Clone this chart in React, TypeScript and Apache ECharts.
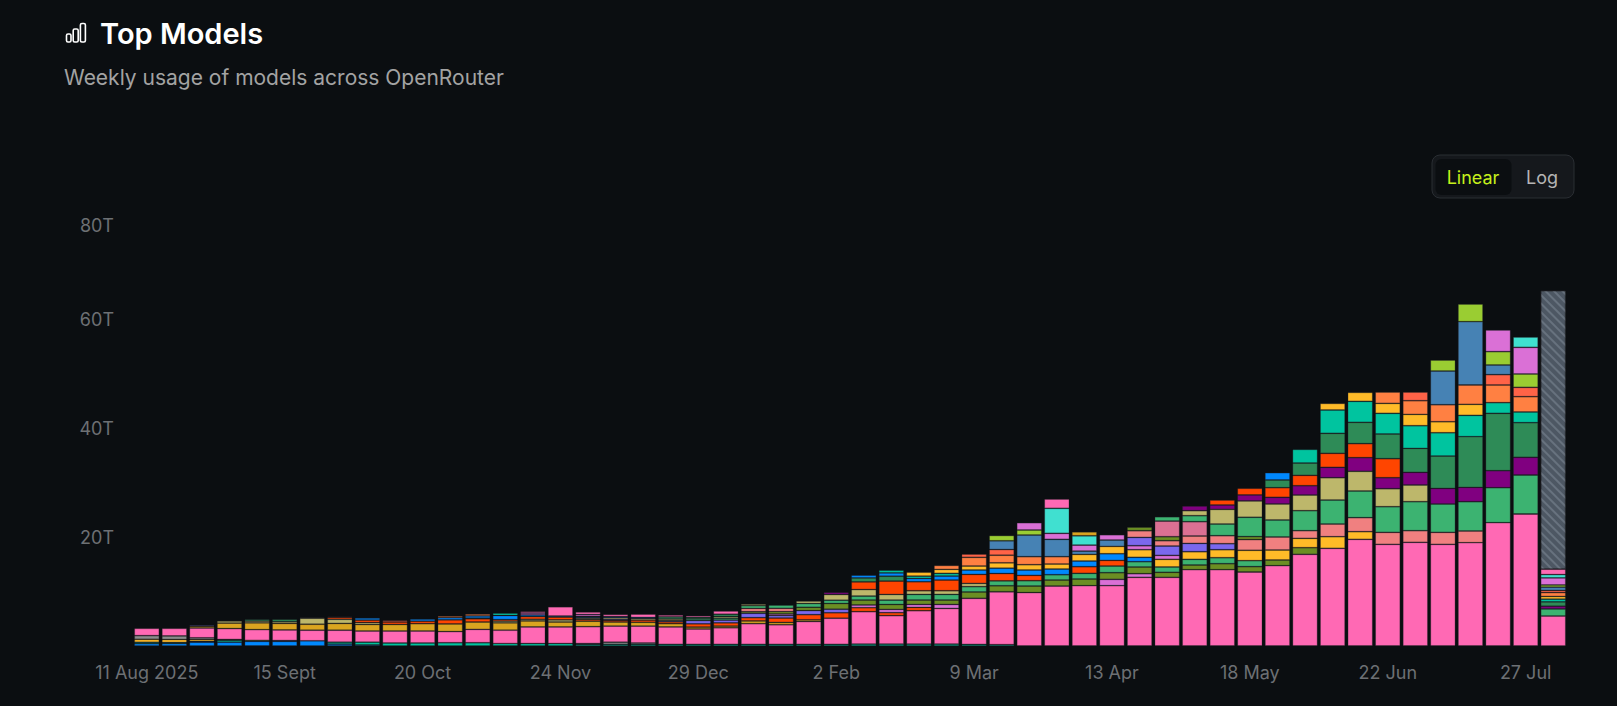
import { useEffect, useRef } from 'react';
import * as echarts from 'echarts';

// weekly buckets, Monday of each week
const weeks = [
  '11 Aug 2025', '18 Aug', '25 Aug', '1 Sept', '8 Sept', '15 Sept', '22 Sept', '29 Sept', '6 Oct', '13 Oct', '20 Oct', '27 Oct', '3 Nov',
  '10 Nov', '17 Nov', '24 Nov', '1 Dec', '8 Dec', '15 Dec', '22 Dec', '29 Dec', '5 Jan', '12 Jan', '19 Jan', '26 Jan', '2 Feb',
  '9 Feb', '16 Feb', '23 Feb', '2 Mar', '9 Mar', '16 Mar', '23 Mar', '30 Mar', '6 Apr', '13 Apr', '20 Apr', '27 Apr', '4 May',
  '11 May', '18 May', '25 May', '1 Jun', '8 Jun', '15 Jun', '22 Jun', '29 Jun', '6 Jul', '13 Jul', '20 Jul', '27 Jul', '3 Aug',
];

const yTicks = [0, 20, 40, 60, 80]; // trillions of tokens

// token volume per model, in T, bottom of the stack first
const blueBase = [
  0.43, 0.45, 0.7, 0.7, 0.85, 0.85, 0.95, 0.35, 0.2, 0, 0, 0, 0,
  0, 0, 0, 0, 0, 0, 0, 0, 0, 0, 0, 0, 0,
  0, 0, 0, 0, 0, 0, 0, 0, 0, 0, 0, 0, 0,
  0, 0, 0, 0, 0, 0, 0, 0, 0, 0, 0, 0, 0,
];
const tealBase = [
  0.25, 0.2, 0.15, 0.35, 0, 0, 0, 0.35, 0.5, 0.55, 0.55, 0.6, 0.6,
  0.45, 0.45, 0.45, 0.3, 0.3, 0.3, 0.3, 0.3, 0.3, 0.3, 0.3, 0.3, 0.3,
  0.35, 0.35, 0.35, 0.35, 0.3, 0.25, 0, 0, 0, 0, 0, 0, 0,
  0, 0, 0, 0, 0, 0, 0, 0, 0, 0, 0, 0, 0,
];
const stripeYellow = [
  0.55, 0.55, 0.35, 0.15, 0.2, 0.15, 0, 0, 0, 0, 0, 0, 0,
  0, 0, 0, 0, 0, 0, 0, 0, 0, 0, 0, 0, 0,
  0, 0, 0, 0, 0, 0, 0, 0, 0, 0, 0, 0, 0,
  0, 0, 0, 0, 0, 0, 0, 0, 0, 0, 0, 0, 0,
];
const stripeGrey = [
  0.67, 0.65, 0.3, 0, 0, 0, 0, 0, 0, 0, 0, 0, 0,
  0, 0, 0, 0.15, 0.4, 0.25, 0, 0, 0, 0, 0, 0, 0,
  0, 0, 0, 0, 0, 0, 0, 0, 0, 0, 0, 0, 0,
  0, 0, 0, 0, 0, 0, 0, 0, 0, 0, 0, 0, 0,
];
const pink = [
  1.35, 1.4, 1.8, 2.0, 1.95, 1.95, 1.95, 2.2, 2.05, 2.2, 2.2, 2.05, 2.45,
  2.45, 3.05, 3.05, 3.1, 2.95, 3.1, 3.2, 2.82, 3.05, 3.8, 3.6, 4.2, 4.8,
  5.95, 5.22, 6.13, 6.55, 8.45, 9.7, 9.8, 11.0, 11.07, 11.07, 12.6, 12.6, 14.0,
  14.0, 13.58, 14.74, 16.82, 17.92, 19.57, 18.65, 19.02, 18.65, 18.96, 22.63, 24.22, 5.5,
];
const goldenrod = [
  0, 0, 0.3, 1.0, 1.25, 1.2, 1.1, 1.25, 1.2, 1.2, 1.35, 1.4, 1.35,
  1.35, 1.1, 0.9, 1.0, 0.75, 0.7, 0.6, 0.35, 0.3, 0.5, 0.43, 0.3, 0,
  0, 0, 0, 0, 0, 0, 0, 0, 0, 0, 0, 0, 0,
  0, 0, 0, 0, 0, 0, 0, 0, 0, 0, 0, 0, 0,
];
const orangeredLow = [
  0, 0, 0, 0, 0, 0, 0, 0, 0, 0, 0, 0, 0,
  0, 0, 0, 0.3, 0.3, 0.4, 0.35, 0.6, 0.6, 0.6, 0.8, 0.95, 1.0,
  0.73, 0.55, 0.6, 0, 0, 0, 0, 0, 0, 0, 0, 0, 0,
  0, 0, 0, 0, 0, 0, 0, 0, 0, 0, 0, 0, 0,
];
const slateLow = [
  0, 0, 0, 0, 0, 0, 0, 0, 0, 0, 0, 0, 0,
  0, 0, 0, 0, 0.2, 0, 0.2, 0.6, 0.5, 0.8, 0.45, 0.75, 0.65,
  0, 0, 0, 0, 0, 0, 0, 0, 0, 0, 0, 0, 0,
  0, 0, 0, 0, 0, 0, 0, 0, 0, 0, 0, 0, 0,
];
const orchidLow = [
  0, 0, 0, 0, 0, 0, 0, 0, 0, 0, 0, 0, 0,
  0, 0, 0, 0, 0, 0, 0, 0, 0, 0, 0.3, 0, 0,
  0.5, 0.6, 0.55, 0.73, 0, 0, 0, 0, 0, 1.16, 0.67, 0, 0,
  0, 0, 0, 0, 0, 0, 0, 0, 0, 0, 0, 0, 0,
];
const olive = [
  0, 0, 0, 0, 0, 0, 0, 0, 0, 0, 0, 0, 0,
  0, 0, 0, 0, 0, 0, 0, 0, 0, 0.3, 0.43, 0.6, 1.05,
  0.9, 0.9, 0.8, 0.8, 1.16, 1.1, 1.2, 1.1, 1.22, 1.22, 1.22, 0.92, 0.86,
  1.1, 0.98, 1.04, 1.22, 0, 0, 0, 0, 0, 0, 0, 0, 0,
];
const seaMidLow = [
  0, 0, 0, 0, 0, 0, 0, 0, 0, 0, 0, 0, 0,
  0, 0, 0, 0, 0, 0, 0, 0, 0, 0, 0, 0.7, 0.6,
  0.73, 0.8, 1.04, 1.04, 0.98, 0.9, 0.98, 0.98, 1.04, 1.22, 0.98, 0.98, 1.04,
  1.1, 1.1, 0, 0, 0, 0, 0, 0, 0, 0, 0, 0, 0,
];
const blueMid = [
  0, 0, 0, 0, 0, 0, 0, 0, 0, 0, 0, 0, 0,
  0, 0, 0, 0, 0, 0, 0, 0, 0, 0, 0, 0, 0,
  0, 0, 0, 0, 0, 0, 0, 0, 0, 0, 0.8, 0, 0,
  0, 0, 0, 0, 0, 0, 0, 0, 0, 0, 0, 0, 0,
];
const goldLow = [
  0, 0, 0, 0, 0, 0, 0, 0, 0, 0, 0, 0, 0,
  0, 0, 0, 0, 0, 0, 0, 0, 0, 0, 0, 0, 0,
  0, 0, 0, 0, 0, 0, 0, 0, 0, 0, 1.4, 1.4, 1.4,
  1.47, 1.9, 1.83, 1.71, 2.14, 1.41, 0, 0, 0, 0, 0, 0, 0,
];
const orchidMid = [
  0, 0, 0, 0, 0, 0, 0, 0, 0, 0, 0, 0, 0,
  0, 0, 0, 0, 0, 0, 0, 0, 0, 0, 0, 0, 0,
  0, 0, 0, 0, 0, 0, 0, 0, 0, 0, 0.73, 0.73, 0,
  0, 0, 0, 0, 0, 0, 0, 0, 0, 0, 0, 0, 0,
];
const slateblue = [
  0, 0, 0.2, 0, 0, 0, 0, 0, 0, 0, 0, 0, 0,
  0, 0, 0, 0, 0, 0, 0, 0, 0, 0, 0, 0, 0,
  0, 0, 0, 0, 0, 0, 0, 0, 0, 0, 1.53, 1.71, 1.53,
  1.1, 0, 0, 0, 0, 0, 0, 0, 0, 0, 0, 0, 0,
];
const lightcoral = [
  0, 0, 0, 0, 0, 0, 0, 0, 0, 0, 0, 0, 0,
  0, 0, 0, 0, 0, 0, 0, 0, 0, 0.6, 0.6, 0, 0,
  0, 0, 0, 0, 0, 0, 0, 0, 0, 0, 1.22, 0.98, 1.35,
  1.47, 1.96, 2.39, 1.41, 2.32, 2.57, 2.2, 2.14, 2.2, 2.14, 0, 0, 0,
];
const olive2 = [
  0, 0, 0, 0, 0, 0, 0, 0, 0, 0, 0, 0, 0,
  0, 0, 0, 0, 0, 0, 0, 0, 0, 0, 0, 0, 0,
  0, 0, 0, 0, 0, 0, 0, 0, 0, 0, 0.67, 0.73, 0,
  0, 0.55, 0, 0, 0, 0, 0, 0, 0, 0, 0, 0, 0,
];
const paleviolet = [
  0, 0, 0, 0, 0, 0, 0, 0, 0, 0, 0, 0, 0,
  0, 0, 0, 0, 0, 0, 0, 0, 0, 0, 0, 0, 0,
  0, 0, 0, 0, 0, 0, 0, 0, 0, 0, 0, 2.87, 2.63,
  0, 0, 0, 0, 0, 0, 0, 0, 0, 0, 0, 0, 0,
];
const seaMid = [
  0, 0, 0, 0, 0, 0, 0, 0, 0, 0, 0, 0, 0,
  0, 0, 0, 0, 0, 0, 0, 0.3, 0.35, 0.5, 0.6, 0, 0,
  0, 0, 0, 0, 0, 0, 0, 0, 0, 0, 0, 0.8, 1.1,
  2.14, 3.55, 3.12, 3.67, 4.4, 4.89, 4.71, 5.32, 5.2, 5.38, 6.42, 7.16, 1.3,
];
const khaki = [
  0, 0, 0, 0.4, 0.3, 0.3, 1.1, 0.75, 0.35, 0, 0, 0, 0,
  0.3, 0.3, 0.4, 0.25, 0.3, 0.3, 0.3, 0, 0.3, 0.3, 0, 0.46, 1.05,
  1.2, 1.04, 0.67, 0.67, 0.6, 0, 0, 0, 0, 0, 0, 0, 0.92,
  2.69, 3.0, 2.94, 2.87, 4.1, 3.61, 3.3, 3.06, 0, 0, 0, 0, 0,
];
const purple = [
  0, 0, 0, 0, 0, 0, 0, 0, 0, 0, 0, 0, 0,
  0, 0, 0, 0, 0, 0, 0, 0, 0, 0, 0, 0, 0.4,
  0, 0, 0, 0, 0, 0, 0, 0, 0, 0, 0, 0, 0.86,
  0.8, 1.1, 1.22, 1.71, 1.9, 2.51, 2.02, 2.32, 2.87, 2.63, 3.12, 3.24, 0.5,
];
const orangered = [
  0, 0, 0, 0, 0, 0, 0, 0.35, 0.45, 0.45, 0.45, 0.75, 0.6,
  0.3, 0.5, 0.5, 0, 0, 0, 0, 0, 0, 0, 0, 0, 0,
  1.4, 2.45, 1.65, 1.96, 1.65, 1.35, 0.98, 0, 1.22, 1.04, 0, 0, 0,
  0.92, 1.22, 1.77, 1.9, 2.57, 2.57, 3.49, 0, 0, 0, 0, 0, 0,
];
const seagreen = [
  0, 0, 0, 0, 0.35, 0.45, 0, 0.15, 0, 0, 0, 0, 0.12,
  0, 0, 0, 0, 0, 0, 0.4, 0.3, 0.43, 0, 0, 0, 0,
  0.73, 0.9, 0, 0, 0, 0, 0, 0, 0, 0, 0, 0, 0,
  0, 0, 1.41, 2.26, 3.67, 3.91, 4.53, 4.4, 5.93, 9.3, 10.52, 6.36, 0.8,
];
const blue = [
  0, 0, 0, 0, 0, 0, 0, 0, 0.4, 0, 0.4, 0.4, 0.4,
  0.75, 0.3, 0.2, 0.2, 0.2, 0.2, 0, 0, 0, 0, 0, 0, 0,
  0.5, 0.6, 0.6, 0.73, 0.8, 0.98, 0.98, 1.04, 1.04, 1.22, 0, 0, 0,
  0, 0, 1.35, 0, 0, 0, 0, 0, 0, 0, 0, 0, 0,
];
const teal = [
  0, 0, 0, 0, 0, 0, 0, 0, 0, 0, 0, 0, 0,
  0.45, 0, 0, 0, 0, 0, 0, 0, 0, 0, 0, 0, 0,
  0, 0.5, 0.43, 0.5, 0, 0, 0, 0, 0, 0, 0, 0, 0,
  0, 0, 0, 2.51, 4.28, 3.85, 3.79, 4.16, 4.28, 3.91, 1.96, 1.96, 0.5,
];
const gold = [
  0, 0, 0, 0, 0, 0, 0, 0, 0, 0, 0, 0, 0,
  0, 0, 0, 0, 0, 0, 0, 0, 0, 0, 0, 0, 0,
  0, 0, 0.73, 0.73, 0.73, 0.98, 0.98, 0.92, 1.22, 1.35, 0, 0, 0,
  0, 0, 0, 0, 1.22, 1.65, 1.83, 2.08, 2.02, 2.02, 0, 0, 0.5,
];
const coral = [
  0, 0, 0, 0, 0, 0, 0, 0, 0, 0, 0, 0.3, 0.35,
  0, 0, 0, 0.15, 0, 0, 0, 0, 0, 0, 0, 0, 0,
  0, 0, 0, 0.73, 1.6, 1.4, 1.47, 1.35, 0, 0, 0, 0, 0,
  0, 0, 0, 0, 0, 0, 2.08, 2.51, 3.12, 3.55, 3.24, 2.81, 0.7,
];
const tomato = [
  0, 0, 0, 0, 0, 0, 0, 0, 0, 0.3, 0, 0, 0,
  0, 0, 0, 0, 0, 0, 0, 0, 0, 0, 0, 0, 0,
  0, 0, 0, 0, 0.6, 1.04, 0, 0, 0, 0, 0, 0, 0,
  0, 0, 0, 0, 0, 0, 0, 1.59, 0, 0, 1.9, 1.71, 0.4,
];
const steelblue = [
  0, 0, 0, 0, 0, 0, 0, 0, 0, 0, 0, 0, 0,
  0, 0, 0, 0, 0, 0, 0, 0, 0, 0, 0, 0, 0,
  0, 0, 0, 0, 0, 1.6, 3.97, 3.18, 0.6, 1.16, 0, 0, 0,
  0, 0, 0, 0, 0, 0, 0, 0, 6.18, 11.62, 1.77, 0, 0.6,
];
const yellowgreen = [
  0, 0, 0, 0, 0, 0, 0, 0, 0, 0, 0, 0, 0,
  0, 0, 0, 0, 0, 0, 0, 0, 0, 0, 0, 0, 0,
  0, 0, 0, 0, 0, 0.98, 0.92, 0, 0, 0, 0, 0, 0,
  0, 0, 0, 0, 0, 0, 0, 0, 2.02, 3.24, 2.45, 2.45, 0.4,
];
const orchid = [
  0, 0, 0, 0, 0, 0, 0.15, 0, 0, 0, 0, 0, 0,
  0, 0.35, 0, 0.35, 0, 0, 0, 0, 0, 0, 0, 0, 0,
  0, 0, 0, 0, 0, 0, 1.35, 1.1, 1.1, 0.98, 0, 0, 0,
  0, 0, 0, 0, 0, 0, 0, 0, 0, 0, 3.98, 4.89, 1.3,
];
const turquoise = [
  0, 0, 0, 0, 0, 0, 0, 0, 0, 0, 0, 0, 0,
  0, 0, 0, 0, 0, 0, 0, 0, 0, 0, 0, 0, 0,
  0, 0, 0, 0, 0, 0, 0, 4.59, 1.71, 0, 0, 0, 0,
  0, 0, 0, 0, 0, 0, 0, 0, 0, 0, 0, 1.9, 0.6,
];
const pinkTop = [
  0, 0, 0, 0, 0, 0, 0, 0, 0, 0, 0, 0, 0,
  0, 0.3, 1.7, 0.45, 0.4, 0.6, 0.35, 0.3, 0.6, 0, 0, 0, 0,
  0, 0, 0, 0, 0, 0, 0, 1.71, 0, 0, 0, 0, 0,
  0, 0, 0, 0, 0, 0, 0, 0, 0, 0, 0, 0, 1.0,
];
const goldenrodTop = [
  0, 0, 0, 0, 0, 0, 0, 0, 0, 0, 0, 0, 0,
  0, 0, 0, 0, 0, 0, 0, 0, 0, 0, 0, 0, 0,
  0, 0, 0, 0, 0, 0, 0, 0, 0.73, 0, 0, 0, 0,
  0, 0, 0, 0, 0, 0, 0, 0, 0, 0, 0, 0, 0,
];
// remainder of the current (incomplete) week
const projected = [
  0, 0, 0, 0, 0, 0, 0, 0, 0, 0, 0, 0, 0,
  0, 0, 0, 0, 0, 0, 0, 0, 0, 0, 0, 0, 0,
  0, 0, 0, 0, 0, 0, 0, 0, 0, 0, 0, 0, 0,
  0, 0, 0, 0, 0, 0, 0, 0, 0, 0, 0, 0, 51.1,
];

const stack = [
  { name: 'Model 01', color: '#0088fe', data: blueBase },
  { name: 'Model 02', color: '#00c49f', data: tealBase },
  { name: 'Model 03', color: '#ffbb28', data: stripeYellow },
  { name: 'Model 04', color: '#8c8c8c', data: stripeGrey },
  { name: 'Model 05', color: '#ff69b4', data: pink },
  { name: 'Model 06', color: '#daa520', data: goldenrod },
  { name: 'Model 07', color: '#ff4500', data: orangeredLow },
  { name: 'Model 08', color: '#7b68ee', data: slateLow },
  { name: 'Model 09', color: '#da70d6', data: orchidLow },
  { name: 'Model 10', color: '#6b8e23', data: olive },
  { name: 'Model 11', color: '#3cb371', data: seaMidLow },
  { name: 'Model 12', color: '#0088fe', data: blueMid },
  { name: 'Model 13', color: '#ffbb28', data: goldLow },
  { name: 'Model 14', color: '#da70d6', data: orchidMid },
  { name: 'Model 15', color: '#7b68ee', data: slateblue },
  { name: 'Model 16', color: '#f08080', data: lightcoral },
  { name: 'Model 17', color: '#6b8e23', data: olive2 },
  { name: 'Model 18', color: '#db7093', data: paleviolet },
  { name: 'Model 19', color: '#3cb371', data: seaMid },
  { name: 'Model 20', color: '#bdb76b', data: khaki },
  { name: 'Model 21', color: '#800080', data: purple },
  { name: 'Model 22', color: '#ff4500', data: orangered },
  { name: 'Model 23', color: '#2e8b57', data: seagreen },
  { name: 'Model 24', color: '#0088fe', data: blue },
  { name: 'Model 25', color: '#00c49f', data: teal },
  { name: 'Model 26', color: '#ffbb28', data: gold },
  { name: 'Model 27', color: '#ff8042', data: coral },
  { name: 'Model 28', color: '#ff6347', data: tomato },
  { name: 'Model 29', color: '#4682b4', data: steelblue },
  { name: 'Model 30', color: '#9acd32', data: yellowgreen },
  { name: 'Model 31', color: '#da70d6', data: orchid },
  { name: 'Model 32', color: '#40e0d0', data: turquoise },
  { name: 'Model 33', color: '#ff69b4', data: pinkTop },
  { name: 'Model 34', color: '#daa520', data: goldenrodTop },
];

const FONT = 'Inter, "Noto Sans", sans-serif';
const AXIS_GREY = '#6d7074';

export default function App() {
  const chartRef = useRef<HTMLDivElement>(null);

  useEffect(() => {
    if (!chartRef.current) return;
    const chart = echarts.init(chartRef.current, undefined, { renderer: 'svg' });

    const series: any[] = stack.map((s) => ({
      name: s.name,
      type: 'bar',
      stack: 'total',
      barCategoryGap: '9%',
      data: s.data.map((v) => (v === 0 ? '-' : v)),
      itemStyle: {
        color: s.color,
        borderColor: 'rgba(40, 42, 46, 0.4)',
        borderWidth: 0.8,
      },
    }));

    series.push({
      name: 'Projected',
      type: 'bar',
      stack: 'total',
      barCategoryGap: '9%',
      data: projected.map((v) => (v === 0 ? '-' : v)),
      itemStyle: {
        color: '#4d5763',
        borderColor: 'rgba(40, 42, 46, 0.5)',
        borderWidth: 0.8,
        decal: {
          symbol: 'rect',
          color: 'rgba(150, 162, 178, 0.35)',
          dashArrayX: [1, 0],
          dashArrayY: [2, 4],
          rotation: Math.PI / 4,
        },
      },
    });

    const option = {
      animation: false,
      backgroundColor: '#0b0e11',
      grid: {
        left: 133,
        right: 50,
        top: 210,
        bottom: 60,
        containLabel: false,
        outerBoundsMode: 'none',
      },
      xAxis: {
        type: 'category',
        data: weeks,
        axisLine: { show: false },
        axisTick: { show: false },
        axisLabel: {
          interval: 4,
          color: AXIS_GREY,
          fontSize: 18,
          fontFamily: FONT,
          margin: 17,
        },
      },
      yAxis: {
        type: 'value',
        min: yTicks[0],
        max: yTicks[yTicks.length - 1],
        interval: yTicks[1] - yTicks[0],
        axisLine: { show: false },
        axisTick: { show: false },
        splitLine: { show: false },
        axisLabel: {
          showMinLabel: false,
          color: AXIS_GREY,
          fontSize: 18,
          fontFamily: FONT,
          margin: 19,
          // the top label sits a little below its tick in the original
          formatter: (v: number) =>
            v === yTicks[yTicks.length - 1] ? `{top|${v}T}` : `${v}T`,
          rich: {
            top: {
              padding: [30, 0, 0, 0],
              color: AXIS_GREY,
              fontSize: 18,
              fontFamily: FONT,
            },
          },
        },
      },
      series,
      graphic: [
        // bar chart icon
        {
          type: 'rect',
          shape: { x: 66.5, y: 34, width: 4.5, height: 8, r: 1.5 },
          style: { fill: 'none', stroke: '#ffffff', lineWidth: 1.6 },
        },
        {
          type: 'rect',
          shape: { x: 73.2, y: 29, width: 5, height: 13, r: 1.5 },
          style: { fill: 'none', stroke: '#ffffff', lineWidth: 1.6 },
        },
        {
          type: 'rect',
          shape: { x: 80.4, y: 23.5, width: 5, height: 18.5, r: 1.5 },
          style: { fill: 'none', stroke: '#ffffff', lineWidth: 1.6 },
        },
        {
          type: 'text',
          x: 100,
          y: 33,
          style: {
            text: 'Top Models',
            fill: '#ffffff',
            font: `600 29px ${FONT}`,
            textVerticalAlign: 'middle',
          },
        },
        {
          type: 'text',
          x: 64,
          y: 77,
          style: {
            text: 'Weekly usage of models across OpenRouter',
            fill: '#a3a3a3',
            font: `400 21px ${FONT}`,
            textVerticalAlign: 'middle',
          },
        },
        // Linear / Log toggle
        {
          type: 'rect',
          shape: { x: 1432, y: 155, width: 142, height: 43, r: 8 },
          style: { fill: '#15181c', stroke: '#2a2e33', lineWidth: 1 },
        },
        {
          type: 'rect',
          shape: { x: 1435.5, y: 159, width: 76, height: 36, r: 6 },
          style: { fill: '#0b0e11' },
        },
        {
          type: 'text',
          x: 1473,
          y: 177,
          style: {
            text: 'Linear',
            fill: '#c6f01b',
            font: `400 18px ${FONT}`,
            textAlign: 'center',
            textVerticalAlign: 'middle',
          },
        },
        {
          type: 'text',
          x: 1542,
          y: 177,
          style: {
            text: 'Log',
            fill: '#b5b5b5',
            font: `400 18px ${FONT}`,
            textAlign: 'center',
            textVerticalAlign: 'middle',
          },
        },
      ],
    };

    chart.setOption(option);

    const handleResize = () => chart.resize();
    window.addEventListener('resize', handleResize);

    return () => {
      window.removeEventListener('resize', handleResize);
      chart.dispose();
    };
  }, []);

  return (
    <div
      ref={chartRef}
      style={{ position: 'fixed', left: 0, top: 0, width: '100vw', height: '100vh' }}
    />
  );
}
